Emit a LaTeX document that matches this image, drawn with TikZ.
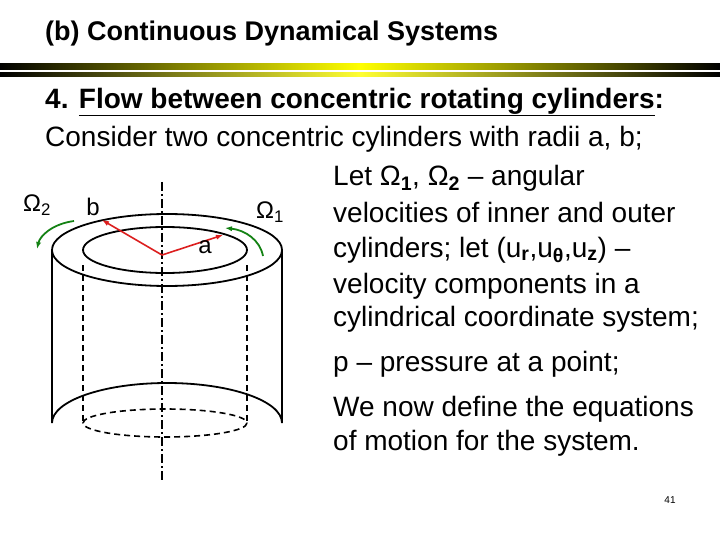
\documentclass[tikz,border=0pt]{standalone}
\usepackage{fontspec}
\setmainfont{Liberation Sans}
\usetikzlibrary{arrows.meta}
\begin{document}
\begin{tikzpicture}[x=1pt,y=-1pt,
  txt/.style={anchor=west,font=\fontsize{28}{30}\selectfont,inner sep=0},
  lab/.style={font=\fontsize{24}{26}\selectfont,inner sep=0},
  solidl/.style={line width=1.8pt,black},
  dashl/.style={line width=1.6pt,dash pattern=on 6pt off 4pt},
  redarrow/.style={draw={rgb,255:red,220;green,30;blue,30},line width=1.6pt,-{Latex[length=7pt]}},
  grnarrow/.style={draw={rgb,255:red,20;green,130;blue,20},line width=1.8pt,-{Latex[length=7pt]}}]
\useasboundingbox (0,0) rectangle (720,540);
\node[anchor=west,inner sep=0,font=\fontsize{27}{30}\selectfont\bfseries] (title) at (45,34) {(b) Continuous Dynamical Systems};
\shade[left color=black,right color=yellow] (0,64) rectangle (360,70);
\shade[left color=yellow,right color=black] (360,64) rectangle (720,70);
\shade[left color=black,right color=yellow!80!white] (0,73) rectangle (360,77);
\shade[left color=yellow!80!white,right color=black] (360,73) rectangle (720,77);
\node[txt,font=\fontsize{28}{30}\selectfont\bfseries] (h) at (45,102) {4. \underline{Flow between concentric rotating cylinders}:};
\node[txt] (c) at (45,139) {Consider two concentric cylinders with radii a, b;};
\node[txt] (l1) at (333,178) {Let Ω\textsubscript{\bfseries 1}, Ω\textsubscript{\bfseries 2} -- angular};
\node[txt] (l2) at (333,212) {velocities of inner and outer};
\node[txt] (l3) at (333,250) {cylinders; let (u\textsubscript{\bfseries r},u\textsubscript{\bfseries θ},u\textsubscript{\bfseries z}) --};
\node[txt] (l4) at (333,286) {velocity components in a};
\node[txt] (l5) at (333,319) {cylindrical coordinate system;};
\node[txt] (l6) at (333,364) {p -- pressure at a point;};
\node[txt] (l7) at (333,409) {We now define the equations};
\node[txt] (l8) at (333,443) {of motion for the system.};
\node[inner sep=0,font=\fontsize{10}{11}\selectfont] (pg) at (670,500) {41};
% cylinder
\draw[solidl] (167,250) ellipse [x radius=115,y radius=36];
\draw[solidl] (165,250) ellipse [x radius=82,y radius=23];
\draw[solidl] (52,250) -- (52,423) arc[start angle=180,end angle=360,x radius=115,y radius=40] -- (282,250);
\draw[dashl] (83,265) -- (83,423);
\draw[dashl] (247,265) -- (247,423);
\draw[dashl] (165,423) ellipse [x radius=82,y radius=14];
\draw[line width=1.6pt,dash pattern=on 9pt off 3pt on 2pt off 3pt] (162,182) -- (162,480);
\coordinate (o) at (162,255);
\coordinate (bb) at (102,220);
\coordinate (aa) at (223,235);
\draw[redarrow] (o) -- (bb);
\draw[redarrow] (o) -- (aa);
\draw[grnarrow] (74,221) .. controls (52,224) and (40,236) .. (37,249);
\draw[grnarrow] (263,256) .. controls (260,240) and (245,230) .. (225,228);
\node[lab] (w2) at (37,205) {Ω\textsubscript{2}};
\node[lab] (b) at (93,207) {b};
\node[lab] (w1) at (270,212) {Ω\textsubscript{1}};
\node[lab] (a) at (205,247) {a};
\end{tikzpicture}
\end{document}
